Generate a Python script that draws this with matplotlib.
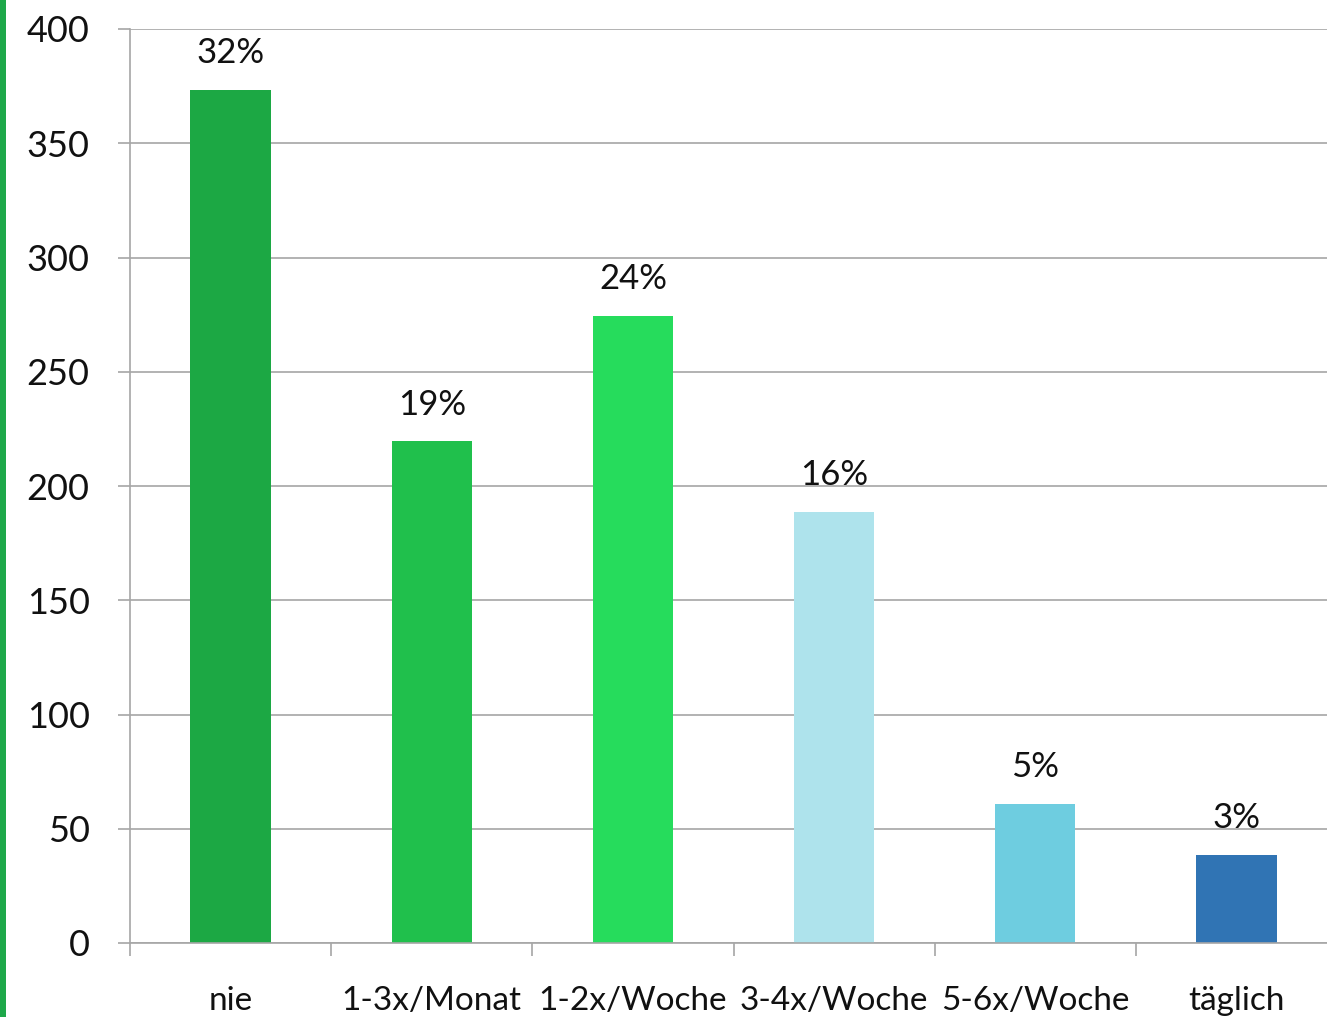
import matplotlib
matplotlib.use("Agg")
import matplotlib.pyplot as plt
from matplotlib.patches import Rectangle

categories = ["nie", "1-3x/Monat", "1-2x/Woche", "3-4x/Woche", "5-6x/Woche", "täglich"]
values = [373.5, 219.5, 274.5, 188.5, 61, 38.5]
pct_labels = ["32%", "19%", "24%", "16%", "5%", "3%"]
colors = ["#1ca844", "#20c04c", "#26dc5c", "#aee3ec", "#6ecde0", "#3074b4"]
yticks = [0, 50, 100, 150, 200, 250, 300, 350, 400]

plt.rcParams['font.family'] = ['Lato', 'DejaVu Sans']

W, H = 1327, 1017
fig = plt.figure(figsize=(W/100, H/100), dpi=100)
fig.patches.append(Rectangle((0, 0), 6/W, 1, transform=fig.transFigure,
                             facecolor="#1ea84a", edgecolor="none"))

left, right = 130/W, 1337/W
top, bottom = 1 - 29/H, 1 - 943/H
ax = fig.add_axes([left, bottom, right - left, top - bottom])

x = list(range(len(categories)))
ax.bar(x, values, width=0.4, color=colors, zorder=3)
for xi, v, lab in zip(x, values, pct_labels):
    ax.annotate(lab, (xi, v), xytext=(0, 15), textcoords="offset points",
                ha="center", va="bottom", fontsize=25, color="#111111")

ax.set_xlim(-0.5, 5.5)
ax.set_ylim(0, 400)
ax.set_yticks(yticks)
ax.set_yticklabels([str(t) for t in yticks], fontsize=26, color="#111111")
ax.yaxis.grid(True, color="#a6a6a6", linewidth=1.2, zorder=0)

ax.set_xticks([i - 0.5 for i in range(len(categories))])
ax.set_xticklabels([])
ax.set_xticks(x, minor=True)
ax.set_xticklabels(categories, minor=True, fontsize=24, color="#111111")
ax.tick_params(axis="x", which="major", length=9, color="#a6a6a6", width=1.2)
ax.tick_params(axis="x", which="minor", length=0, pad=31)
ax.tick_params(axis="y", length=9, color="#a6a6a6", width=1.2, pad=20)

for s in ["top", "right"]:
    ax.spines[s].set_visible(False)
for s in ["left", "bottom"]:
    ax.spines[s].set_color("#a6a6a6")
    ax.spines[s].set_linewidth(1.2)
ax.spines["bottom"].set_zorder(4)

fig.savefig("out.png", dpi=100)
